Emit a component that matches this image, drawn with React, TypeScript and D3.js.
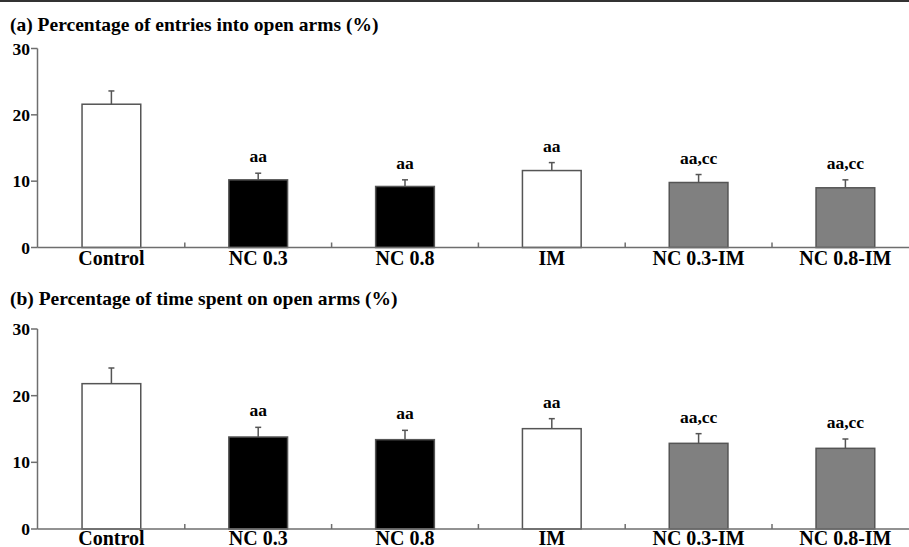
import React from "react";
import * as d3 from "d3";

const categories = ["Control", "NC 0.3", "NC 0.8", "IM", "NC 0.3-IM", "NC 0.8-IM"];
const fills = ["#ffffff", "#000000", "#000000", "#ffffff", "#808080", "#808080"];

const entriesMean = [21.6, 10.2, 9.2, 11.6, 9.8, 9.0];
const entriesErr = [2.0, 1.0, 1.0, 1.2, 1.2, 1.2];
const timeMean = [21.8, 13.8, 13.4, 15.05, 12.85, 12.1];
const timeErr = [2.35, 1.45, 1.4, 1.5, 1.45, 1.4];
const annotations = ["", "aa", "aa", "aa", "aa,cc", "aa,cc"];
const yTicks = [0, 10, 20, 30];

const FONT = "'Liberation Serif', 'Times New Roman', serif";
const W = 909;
const H = 547;

const x = d3
  .scaleBand<string>()
  .domain(categories)
  .range([38, 38 + 6 * 146.8])
  .paddingInner(0.6)
  .paddingOuter(0.3);

function Panel({
  title,
  titleY,
  yTop,
  yBottom,
  labelOffset,
  means,
  errs,
}: {
  title: string;
  titleY: number;
  yTop: number;
  yBottom: number;
  labelOffset: number;
  means: number[];
  errs: number[];
}) {
  const y = d3.scaleLinear().domain([0, 30]).range([yBottom, yTop]);
  const step = x.step();
  const bw = x.bandwidth();
  const axisX = 37.5;
  return (
    <g>
      <text x={10} y={titleY} fontFamily={FONT} fontWeight="bold" fontSize={19.5} fill="#000">
        {title}
      </text>
      <line x1={axisX} x2={axisX} y1={y(30)} y2={y(0)} stroke="#6e6e6e" strokeWidth={1.5} />
      {yTicks.map((t) => (
        <g key={t}>
          <line x1={31} x2={axisX} y1={y(t)} y2={y(t)} stroke="#6e6e6e" strokeWidth={1.5} />
          <text
            x={30}
            y={y(t)}
            dy="0.35em"
            textAnchor="end"
            fontFamily={FONT}
            fontWeight="bold"
            fontSize={17.5}
            fill="#000"
          >
            {t}
          </text>
        </g>
      ))}
      {categories.map((c, i) => {
        const x0 = x(c)!;
        const cx = x0 + bw / 2;
        const top = y(means[i]);
        const et = y(means[i] + errs[i]);
        return (
          <g key={c}>
            <rect
              x={x0}
              y={top}
              width={bw}
              height={y(0) - top}
              fill={fills[i]}
              stroke="#555"
              strokeWidth={1.5}
            />
            <line x1={cx} x2={cx} y1={top} y2={et} stroke="#555" strokeWidth={1.5} />
            <line x1={cx - 3} x2={cx + 3} y1={et} y2={et} stroke="#555" strokeWidth={1.5} />
            {annotations[i] && (
              <text
                x={cx}
                y={et - 11}
                textAnchor="middle"
                fontFamily={FONT}
                fontWeight="bold"
                fontSize={17.5}
                fill="#000"
              >
                {annotations[i]}
              </text>
            )}
            <text
              x={cx}
              y={y(0) + labelOffset}
              textAnchor="middle"
              fontFamily={FONT}
              fontWeight="bold"
              fontSize={20}
              fill="#000"
            >
              {c}
            </text>
            {i > 0 && (
              <line
                x1={x0 + bw / 2 - step / 2}
                x2={x0 + bw / 2 - step / 2}
                y1={y(0)}
                y2={y(0) - 5}
                stroke="#6e6e6e"
                strokeWidth={1.5}
              />
            )}
          </g>
        );
      })}
      <line x1={axisX} x2={W} y1={y(0)} y2={y(0)} stroke="#6e6e6e" strokeWidth={1.5} />
    </g>
  );
}

export default function App() {
  return (
    <svg
      width={W}
      height={H}
      viewBox={`0 0 ${W} ${H}`}
      style={{ position: "absolute", left: 0, top: 0, background: "#fff" }}
    >
      <rect x={0} y={0} width={W} height={H} fill="#fff" />
      <line x1={0} x2={W} y1={1} y2={1} stroke="#333" strokeWidth={2} />
      <Panel
        title="(a) Percentage of entries into open arms (%)"
        titleY={30.7}
        yTop={48.5}
        yBottom={247.5}
        labelOffset={17.5}
        means={entriesMean}
        errs={entriesErr}
      />
      <Panel
        title="(b) Percentage of time spent on open arms (%)"
        titleY={305}
        yTop={329}
        yBottom={529}
        labelOffset={15.5}
        means={timeMean}
        errs={timeErr}
      />
    </svg>
  );
}
